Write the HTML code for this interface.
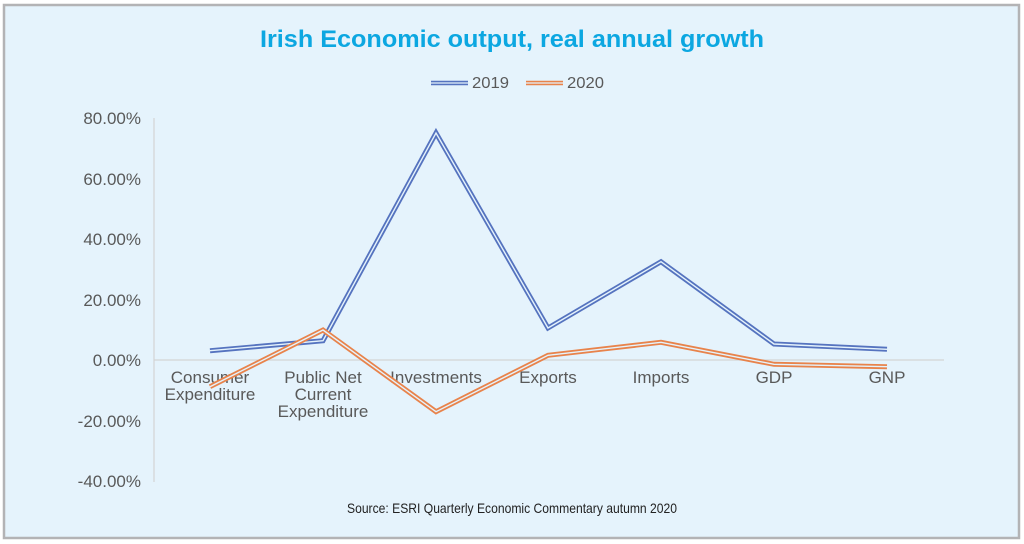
<!DOCTYPE html>
<html><head><meta charset="utf-8"><style>
html,body{margin:0;padding:0;background:#fff;}
svg{display:block;}
text{font-family:"Liberation Sans",Arial,sans-serif;}
</style></head><body>
<svg width="1024" height="544" viewBox="0 0 1024 544" xmlns="http://www.w3.org/2000/svg">
<rect x="0" y="0" width="1024" height="544" fill="#ffffff"/>
<rect x="4" y="5" width="1015" height="533" fill="#e5f3fc" stroke="#b3b3b5" stroke-width="2.5"/>
<text x="512" y="47" text-anchor="middle" font-size="24" font-weight="bold" fill="#0ca7e1" textLength="504" lengthAdjust="spacingAndGlyphs">Irish Economic output, real annual growth</text>
<g>
<line x1="431" y1="83" x2="468" y2="83" stroke="#5573bf" stroke-width="4.5"/>
<line x1="431" y1="83" x2="468" y2="83" stroke="#e5f3fc" stroke-width="1.3"/>
<text x="472" y="88" font-size="16" fill="#595959" textLength="37" lengthAdjust="spacingAndGlyphs">2019</text>
<line x1="526" y1="83" x2="563" y2="83" stroke="#e8834b" stroke-width="4.5"/>
<line x1="526" y1="83" x2="563" y2="83" stroke="#e5f3fc" stroke-width="1.3"/>
<text x="567" y="88" font-size="16" fill="#595959" textLength="37" lengthAdjust="spacingAndGlyphs">2020</text>
</g>
<g font-size="17" fill="#595959" text-anchor="end">
<text x="141" y="124">80.00%</text>
<text x="141" y="185">60.00%</text>
<text x="141" y="245">40.00%</text>
<text x="141" y="306">20.00%</text>
<text x="141" y="366">0.00%</text>
<text x="141" y="427">-20.00%</text>
<text x="141" y="487">-40.00%</text>
</g>
<line x1="154" y1="118" x2="154" y2="482" stroke="#d4d4d4" stroke-width="1.2"/>
<line x1="154" y1="360" x2="944" y2="360" stroke="#d4d4d4" stroke-width="1.2"/>
<g font-size="17" fill="#595959" text-anchor="middle">
<text x="210" y="383">Consumer</text>
<text x="210" y="400">Expenditure</text>
<text x="323" y="383">Public Net</text>
<text x="323" y="400">Current</text>
<text x="323" y="417">Expenditure</text>
<text x="436" y="383">Investments</text>
<text x="548" y="383">Exports</text>
<text x="661" y="383">Imports</text>
<text x="774" y="383">GDP</text>
<text x="887" y="383">GNP</text>
</g>
<g fill="none" stroke-linejoin="miter">
<polyline points="210,350.7 323,340.7 436,133 548,328 661,261.7 774,344 887,349.3" stroke="#5573bf" stroke-width="5"/>
<polyline points="210,350.7 323,340.7 436,133 548,328 661,261.7 774,344 887,349.3" stroke="#e5f3fc" stroke-width="1.4"/>
<polyline points="210,386.7 323,330 436,411.7 548,355.3 661,342.3 774,364.3 887,366.7" stroke="#e8834b" stroke-width="5"/>
<polyline points="210,386.7 323,330 436,411.7 548,355.3 661,342.3 774,364.3 887,366.7" stroke="#e5f3fc" stroke-width="1.4"/>
</g>
<text x="512" y="513" text-anchor="middle" font-size="14" fill="#222" textLength="330" lengthAdjust="spacingAndGlyphs">Source: ESRI Quarterly Economic Commentary autumn 2020</text>
</svg>
</body></html>
